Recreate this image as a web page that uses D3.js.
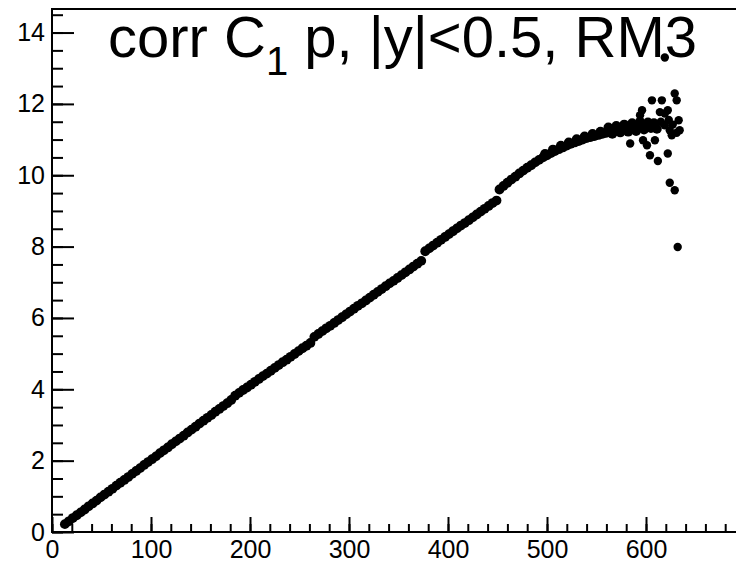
<!DOCTYPE html>
<html lang="en">
<head>
    <meta charset="UTF-8">
    <title>corr C1 p, |y|&lt;0.5, RM3</title>
    <script src="https://d3js.org/d3.v7.min.js"></script>
    <style>
        body { margin: 0; background: #fff; }
        text { font-family: "Liberation Sans", Arial, Helvetica, sans-serif; fill: #000; }
    </style>
</head>
<body>
    <svg width="736" height="563"></svg>
    <script>
        // main band, every ~4 units
        const bandX = [13, 17, 21, 25, 29, 33, 37, 41, 45, 49, 53, 57, 61, 65, 69, 73, 77, 81, 85, 89,
            93, 97, 101, 105, 109, 113, 117, 121, 125, 129, 133, 137, 141, 145, 149, 153, 157, 161, 165, 169,
            173, 177, 181, 185, 189, 193, 197, 201, 205, 209, 213, 217, 221, 225, 229, 233, 237, 241, 245, 249,
            253, 257, 261, 265, 269, 273, 277, 281, 285, 289, 293, 297, 301, 305, 309, 313, 317, 321, 325, 329,
            333, 337, 341, 345, 349, 353, 357, 361, 365, 369, 373, 377, 381, 385, 389, 393, 397, 401, 405, 409,
            413, 417, 421, 425, 429, 433, 437, 441, 445, 449, 452, 456, 460, 464, 468, 472, 476, 480, 484, 488,
            492, 496, 500, 504, 508, 512, 516, 520, 524, 528, 532, 536, 540, 544, 548, 552, 556, 560, 564, 568,
            572, 576, 580, 584, 588, 592, 596, 600,
            498, 506, 514, 522, 530, 538, 546, 554, 562, 566, 570, 574, 578, 582, 586, 590, 594, 598, 602, 605, 608, 611];
        const bandY = [0.22, 0.30, 0.39, 0.47, 0.55, 0.63, 0.72, 0.80, 0.88, 0.97, 1.05, 1.13, 1.21, 1.30, 1.38, 1.46, 1.54, 1.63, 1.71, 1.79,
            1.88, 1.96, 2.04, 2.12, 2.21, 2.29, 2.37, 2.46, 2.54, 2.62, 2.70, 2.79, 2.87, 2.95, 3.04, 3.12, 3.20, 3.28, 3.37, 3.45,
            3.53, 3.61, 3.70, 3.82, 3.90, 3.98, 4.05, 4.13, 4.21, 4.29, 4.37, 4.44, 4.52, 4.60, 4.68, 4.76, 4.83, 4.91, 4.99, 5.07,
            5.15, 5.22, 5.30, 5.47, 5.55, 5.63, 5.71, 5.78, 5.86, 5.94, 6.02, 6.10, 6.18, 6.26, 6.34, 6.41, 6.49, 6.57, 6.65, 6.73,
            6.81, 6.89, 6.97, 7.04, 7.12, 7.20, 7.28, 7.36, 7.44, 7.52, 7.60, 7.87, 7.95, 8.03, 8.11, 8.19, 8.27, 8.35, 8.43, 8.51,
            8.59, 8.66, 8.74, 8.82, 8.90, 8.98, 9.06, 9.14, 9.22, 9.29, 9.60, 9.70, 9.79, 9.88, 9.96, 10.05, 10.13, 10.21, 10.28, 10.36,
            10.43, 10.50, 10.56, 10.62, 10.68, 10.73, 10.78, 10.83, 10.88, 10.92, 10.96, 11.00, 11.04, 11.07, 11.10, 11.13, 11.16, 11.19, 11.21, 11.23,
            11.25, 11.27, 11.29, 11.31, 11.33, 11.34, 11.36, 11.37,
            10.60, 10.72, 10.83, 10.92, 11.01, 11.09, 11.16, 11.22, 11.34, 11.16, 11.38, 11.20, 11.42, 11.22, 11.46, 11.24, 11.50, 11.28, 11.48, 11.32, 11.46, 11.30];

        // spread and outliers at the high end
        const tailX = [584, 594, 596, 597, 601, 604, 606, 609, 612, 614, 616, 619, 619, 622, 622, 624, 624, 626, 629, 629, 631, 631, 632, 633, 634,
            615, 619, 623, 627];
        const tailY = [10.89, 11.68, 11.82, 10.98, 10.84, 10.56, 12.10, 10.98, 10.40, 11.77, 12.10, 11.73, 13.30, 11.82, 10.61, 11.26, 9.79, 11.12, 12.29, 9.58, 12.10, 11.19, 7.99, 11.54, 11.26,
            11.50, 11.40, 11.55, 11.42];

        const xMajor = [0, 100, 200, 300, 400, 500, 600];
        const yMajor = [0, 2, 4, 6, 8, 10, 12, 14];

        const svg = d3.select("svg");
        const padL = 52, padT = 9, padB = 532;

        const x = d3.scaleLinear().domain([0, 700]).range([padL, padL + 693]);
        const y = d3.scaleLinear().domain([0, 14.66]).range([padB, padT]);

        // minor ticks
        svg.append("g")
            .attr("transform", `translate(0,${padB})`)
            .call(d3.axisBottom(x).tickValues(d3.range(0, 701, 20)).tickSizeInner(-8).tickSizeOuter(0).tickFormat(""))
            .call(g => g.select(".domain").remove());
        svg.append("g")
            .attr("transform", `translate(${padL},0)`)
            .call(d3.axisLeft(y).tickValues(d3.range(0, 14.6, 0.5)).tickSizeInner(-11).tickSizeOuter(0).tickFormat(""))
            .call(g => g.select(".domain").remove());

        // major ticks + labels
        svg.append("g")
            .attr("transform", `translate(0,${padB})`)
            .call(d3.axisBottom(x).tickValues(xMajor).tickSizeInner(-15).tickSizeOuter(0).tickPadding(8))
            .call(g => g.select(".domain").remove())
            .selectAll("text").attr("font-size", 25);
        svg.append("g")
            .attr("transform", `translate(${padL},0)`)
            .call(d3.axisLeft(y).tickValues(yMajor).tickSizeInner(-22).tickSizeOuter(0).tickPadding(7))
            .call(g => g.select(".domain").remove())
            .selectAll("text").attr("font-size", 25);

        svg.selectAll(".tick line").attr("stroke", "#000").attr("stroke-width", 2);

        // frame
        svg.append("path")
            .attr("d", `M736,${padT}H${padL}V${padB}H736`)
            .attr("fill", "none")
            .attr("stroke", "#000")
            .attr("stroke-width", 2);

        const marks = svg.append("g");
        marks.selectAll(".band")
            .data(bandX.map((v, i) => [v, bandY[i]]))
            .join("circle")
            .attr("class", "band")
            .attr("cx", d => x(d[0]))
            .attr("cy", d => y(d[1]))
            .attr("r", 4.9)
            .attr("fill", "#000");
        marks.selectAll(".tail")
            .data(tailX.map((v, i) => [v, tailY[i]]))
            .join("circle")
            .attr("class", "tail")
            .attr("cx", d => x(d[0]))
            .attr("cy", d => y(d[1]))
            .attr("r", 4.2)
            .attr("fill", "#000");

        // title
        const title = svg.append("text")
            .attr("x", 108)
            .attr("y", 57)
            .attr("font-size", 58);
        title.append("tspan").text("corr C");
        title.append("tspan").attr("font-size", 40).attr("dy", 18).text("1");
        title.append("tspan").attr("dy", -18).text(" p, |y|<0.5, RM3");
    </script>
</body>
</html>
